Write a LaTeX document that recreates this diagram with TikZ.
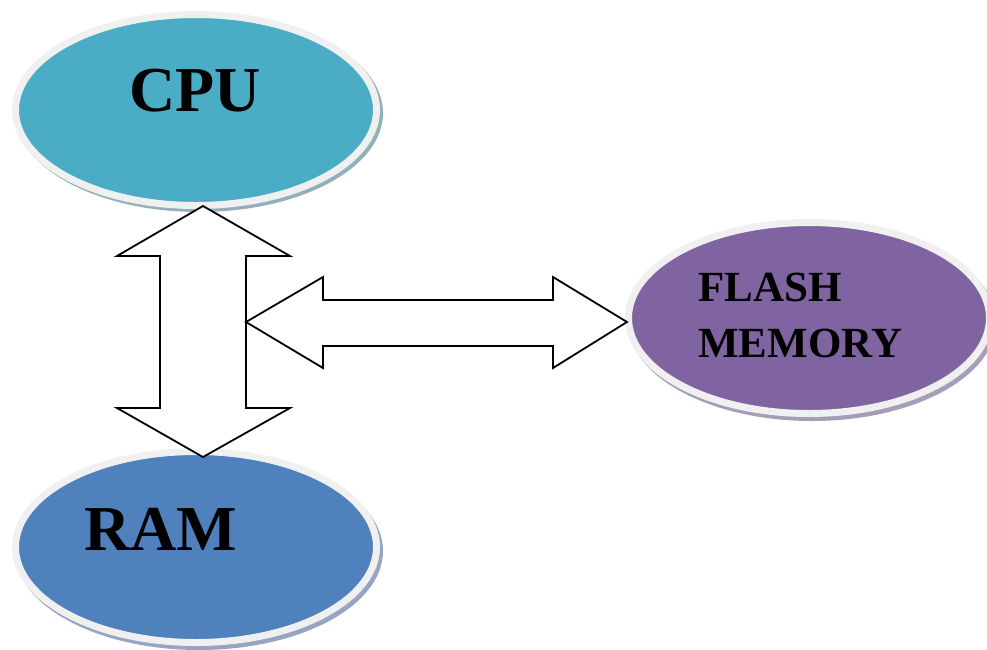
\documentclass[tikz,border=0pt]{standalone}
\usepackage{fontspec}
\setmainfont{Liberation Serif}
\usetikzlibrary{shapes.geometric}

\definecolor{cpufill}{HTML}{4BACC6}
\definecolor{ramfill}{HTML}{4F81BD}
\definecolor{flashfill}{HTML}{8064A2}
\definecolor{rim}{HTML}{F0F0F0}
\definecolor{cpushade}{HTML}{93B0BA}
\definecolor{ramshade}{HTML}{95A5C2}
\definecolor{flashshade}{HTML}{A89DB8}

\begin{document}
\begin{tikzpicture}[x=1pt,y=-1pt]
\useasboundingbox (0,0) rectangle (987,649);
\tikzset{
  unit/.style={ellipse, inner sep=0pt, minimum width=361pt, minimum height=191pt,
               draw=rim, line width=7pt},
  bigtext/.style={font=\bfseries\fontsize{64pt}{64pt}\selectfont, inner sep=0pt, anchor=base},
  smalltext/.style={font=\bfseries\fontsize{43pt}{43pt}\selectfont, inner sep=0pt, anchor=base west},
  blockarrow/.style={draw=black, fill=white, line width=1.8pt, line join=miter}
}

% soft shadows behind the rims
\fill[cpushade]   (199,113) ellipse [x radius=184pt, y radius=99pt];
\fill[ramshade]   (199,551) ellipse [x radius=184pt, y radius=99pt];
\fill[flashshade] (812,322) ellipse [x radius=184pt, y radius=99pt];

% the three units
\node[unit, fill=cpufill]   (cpu)   at (196,110) {};
\node[unit, fill=ramfill]   (ram)   at (196,547) {};
\node[unit, fill=flashfill] (flash) at (809,318) {};

% labels
\node[bigtext]   (cpulabel)   at (195,111) {CPU};
\node[bigtext]   (ramlabel)   at (161,550) {RAM};
\node[smalltext] (flashlabel) at (698,301) {FLASH};
\node[smalltext] (memlabel)   at (698,357) {MEMORY};

% CPU <-> RAM block arrow
\draw[blockarrow] (203,206) -- (290,256) -- (246,256) -- (246,408) -- (290,408)
  -- (203,457) -- (117,408) -- (160,408) -- (160,256) -- (117,256) -- cycle;

% bus <-> flash block arrow
\draw[blockarrow] (246,322) -- (323,277) -- (323,300) -- (553,300) -- (553,277)
  -- (627,322) -- (553,368) -- (553,346) -- (323,346) -- (323,368) -- cycle;
\end{tikzpicture}
\end{document}
